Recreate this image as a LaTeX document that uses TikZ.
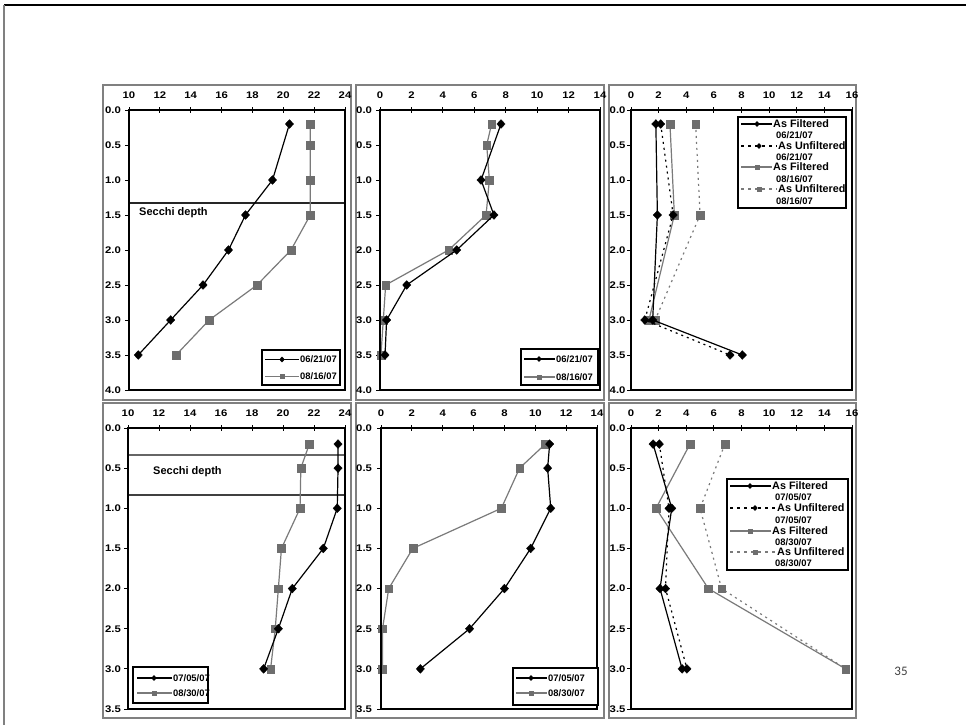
\documentclass[tikz,border=0pt]{standalone}
\usepackage{fontspec}
\setmainfont{Liberation Sans}
\newfontfamily\pagefont{Carlito}
\newfontfamily\widefont[FakeStretch=1.18]{Liberation Sans}
\usetikzlibrary{shapes.geometric}
\definecolor{fr}{gray}{0.5}
\definecolor{sg}{gray}{0.43}
\definecolor{sl}{gray}{0.48}
\newcommand\ser[3]{%
  \def\serpath{}%
  \foreach[count=\i] \xx/\yy in {#3}{%
    \ifnum\i=1 \xdef\serpath{(\xx,\yy)}\else\xdef\serpath{\serpath--(\xx,\yy)}\fi}%
  \def\serdraw{\draw[#1]}\expandafter\serdraw\serpath;%
  \foreach \xx/\yy in {#3}{\node[#2] at (\xx,\yy) {};}%
}
\begin{document}
\begin{tikzpicture}[x=1pt,y=-1pt,
  panelframe/.style={draw=fr,line width=1.1pt},
  plotbox/.style={draw=black,line width=1.9pt},
  tickmark/.style={line width=0.9pt},
  ticklab/.style={font=\widefont\bfseries\fontsize{9.6}{10}\selectfont,inner sep=0pt},
  leglab/.style={font=\bfseries\fontsize{9.4}{10}\selectfont,inner sep=0pt,anchor=west},
  bigleg/.style={font=\bfseries\fontsize{10.8}{11}\selectfont,inner sep=0pt,anchor=west},
  secchi/.style={font=\bfseries\fontsize{11}{12}\selectfont,inner sep=0pt,anchor=west},
  legbox/.style={draw=black,line width=2.2pt,fill=white},
  dia/.style={diamond,fill=black,draw=black,line width=0.3pt,inner sep=0pt,minimum width=8.5pt,minimum height=9pt},
  sq/.style={rectangle,fill=sg,draw=sg,line width=0.3pt,inner sep=0pt,minimum size=7.8pt},
  sdia/.style={diamond,fill=black,inner sep=0pt,minimum width=5.5pt,minimum height=6pt},
  ssq/.style={rectangle,fill=sg,inner sep=0pt,minimum size=5pt},
  blk/.style={line width=1.2pt,black},
  gry/.style={line width=1.2pt,sl},
  dots/.style={dash pattern=on 2pt off 4pt},
  legdots/.style={dash pattern=on 3pt off 4pt}]
\useasboundingbox (0,0) rectangle (966,725);
\fill[white] (0,0) rectangle (966,725);
% slide frame
\draw[line width=1.5pt,black] (4,5) -- (966,5);
\draw[line width=1.3pt,fr] (4,5) -- (4,725);
\node[font=\pagefont\fontsize{13}{14}\selectfont,text=black!75,inner sep=0pt] (pnum) at (901,671) {35};

% ================= Panel 1 =================
\draw[panelframe] (103,85) rectangle (351,400);
\foreach \v in {10,12,...,24} {
  \node[ticklab] at ({129+(\v-10)*15.4286},95) {\v};
  \draw[tickmark] ({129+(\v-10)*15.4286},107) -- ({129+(\v-10)*15.4286},113);}
\foreach \d in {0.0,0.5,1.0,1.5,2.0,2.5,3.0,3.5,4.0} {
  \node[ticklab,anchor=west] at (105,{110+\d*70}) {\d};
  \draw[tickmark] (125,{110+\d*70}) -- (130,{110+\d*70});}
\draw[line width=2.6pt,black!85] (129,203) -- (345,203);
\node[secchi] (s1) at (139,213) {Secchi depth};
\begin{scope}[shift={(-25.286,110)},xscale=15.4286,yscale=70]
  \ser{gry}{sq}{21.75/0.2,21.75/0.5,21.75/1.0,21.75/1.5,20.5/2.0,18.3/2.5,15.2/3.0,13.05/3.5}
  \ser{blk}{dia}{20.4/0.2,19.3/1.0,17.55/1.5,16.45/2.0,14.8/2.5,12.7/3.0,10.6/3.5}
\end{scope}
\draw[plotbox] (129,110) rectangle (345,390);
\draw[legbox] (262,350) rectangle (340,385);
\draw[blk] (265,359.5) -- (299,359.5); \node[sdia] at (282,359.5) {};
\node[leglab] (l1a) at (300,359.5) {06/21/07};
\draw[gry] (265,376.5) -- (299,376.5); \node[ssq] at (282,376.5) {};
\node[leglab] (l1b) at (300,376.5) {08/16/07};

% ================= Panel 2 =================
\draw[panelframe] (356,85) rectangle (604,400);
\foreach \v in {0,2,...,14} {
  \node[ticklab] at ({380+\v*15.714},95) {\v};
  \draw[tickmark] ({380+\v*15.714},107) -- ({380+\v*15.714},113);}
\foreach \d in {0.0,0.5,1.0,1.5,2.0,2.5,3.0,3.5,4.0} {
  \node[ticklab,anchor=west] at (356,{110+\d*70}) {\d};
  \draw[tickmark] (376,{110+\d*70}) -- (381,{110+\d*70});}
\begin{scope}[shift={(380,110)},xscale=15.714,yscale=70]
  \ser{gry}{sq}{7.1/0.2,6.79/0.5,6.96/1.0,6.75/1.5,4.37/2.0,0.36/2.5,0.21/3.0,0.06/3.5}
  \ser{blk}{dia}{7.7/0.2,6.43/1.0,7.25/1.5,4.88/2.0,1.7/2.5,0.42/3.0,0.32/3.5}
\end{scope}
\draw[plotbox] (380,110) rectangle (600,390);
\draw[legbox] (521,349) rectangle (598,385);
\draw[blk] (524,359) -- (555,359); \node[sdia] at (539,359) {};
\node[leglab] (l2a) at (556,359) {06/21/07};
\draw[gry] (524,377) -- (555,377); \node[ssq] at (539,377) {};
\node[leglab] (l2b) at (556,377) {08/16/07};

% ================= Panel 3 =================
\draw[panelframe] (609,85) rectangle (856,400);
\foreach \v in {0,2,...,16} {
  \node[ticklab] at ({631+\v*13.8125},95) {\v};
  \draw[tickmark] ({631+\v*13.8125},107) -- ({631+\v*13.8125},113);}
\foreach \d in {0.0,0.5,1.0,1.5,2.0,2.5,3.0,3.5,4.0} {
  \node[ticklab,anchor=west] at (609.5,{110+\d*70}) {\d};
  \draw[tickmark] (627,{110+\d*70}) -- (632,{110+\d*70});}
\begin{scope}[shift={(631,110)},xscale=13.8125,yscale=70]
  \ser{gry,dots}{sq}{4.68/0.2,5.0/1.5,1.75/3.0}
  \ser{gry}{sq}{2.82/0.2,3.14/1.5,1.3/3.0}
  \ser{blk,dots}{dia}{2.15/0.2,3.05/1.5,1.0/3.0,7.17/3.5}
  \ser{blk}{dia}{1.8/0.2,1.91/1.5,1.57/3.0,8.06/3.5}
\end{scope}
\draw[plotbox] (631,110) rectangle (852,390);
\draw[legbox] (738,117) rectangle (846,208);
\draw[blk] (741,124) -- (772,124); \node[sdia] at (757,124) {};
\node[bigleg] (l3a) at (773,124) {As Filtered};
\node[leglab] (l3b) at (776,135) {06/21/07};
\draw[blk,legdots] (741,146) -- (777,146); \node[sdia] at (759,146) {};
\node[bigleg] (l3c) at (778,146) {As Unfiltered};
\node[leglab] (l3d) at (776,157) {06/21/07};
\draw[gry] (741,167) -- (772,167); \node[ssq] at (757,167) {};
\node[bigleg] (l3e) at (773,167) {As Filtered};
\node[leglab] (l3f) at (776,179) {08/16/07};
\draw[gry,legdots] (741,189) -- (777,189); \node[ssq] at (759,189) {};
\node[bigleg] (l3g) at (778,189) {As Unfiltered};
\node[leglab] (l3h) at (776,201) {08/16/07};

% ================= Panel 4 =================
\draw[panelframe] (103,403) rectangle (351,718);
\foreach \v in {10,12,...,24} {
  \node[ticklab] at ({128+(\v-10)*15.5},413) {\v};
  \draw[tickmark] ({128+(\v-10)*15.5},425) -- ({128+(\v-10)*15.5},431);}
\foreach \d in {0.0,0.5,1.0,1.5,2.0,2.5,3.0,3.5} {
  \node[ticklab,anchor=west] at (105,{428+\d*80.29}) {\d};
  \draw[tickmark] (124,{428+\d*80.29}) -- (129,{428+\d*80.29});}
\draw[line width=1.1pt,black!60] (128,455) -- (345,455);
\draw[line width=1.1pt,black!75] (128,495) -- (345,495);
\node[secchi] (s4) at (153,472) {Secchi depth};
\begin{scope}[shift={(-27,428)},xscale=15.5,yscale=80.29]
  \ser{gry}{sq}{21.7/0.2,21.15/0.5,21.1/1.0,19.9/1.5,19.7/2.0,19.5/2.5,19.2/3.0}
  \ser{blk}{dia}{23.55/0.2,23.55/0.5,23.5/1.0,22.6/1.5,20.6/2.0,19.7/2.5,18.75/3.0}
\end{scope}
\draw[plotbox] (128,428) rectangle (345,709);
\draw[legbox] (133,667) rectangle (208,703);
\draw[blk] (137,678) -- (172,678); \node[sdia] at (154,678) {};
\node[leglab] (l4a) at (173,678) {07/05/07};
\draw[gry] (137,693) -- (172,693); \node[ssq] at (154,693) {};
\node[leglab] (l4b) at (173,693) {08/30/07};

% ================= Panel 5 =================
\draw[panelframe] (356,403) rectangle (604,718);
\foreach \v in {0,2,...,14} {
  \node[ticklab] at ({381+\v*15.43},413) {\v};
  \draw[tickmark] ({381+\v*15.43},425) -- ({381+\v*15.43},431);}
\foreach \d in {0.0,0.5,1.0,1.5,2.0,2.5,3.0,3.5} {
  \node[ticklab,anchor=west] at (356,{428+\d*80.29}) {\d};
  \draw[tickmark] (377,{428+\d*80.29}) -- (382,{428+\d*80.29});}
\begin{scope}[shift={(381,428)},xscale=15.43,yscale=80.29]
  \ser{gry}{sq}{10.65/0.2,8.98/0.5,7.8/1.0,2.06/1.5,0.5/2.0,0.1/2.5,0.1/3.0}
  \ser{blk}{dia}{10.93/0.2,10.8/0.5,11.0/1.0,9.7/1.5,8.0/2.0,5.74/2.5,2.55/3.0}
\end{scope}
\draw[plotbox] (381,428) rectangle (597,709);
\draw[legbox] (513,668) rectangle (598,705);
\draw[blk] (516,678) -- (547,678); \node[sdia] at (531,678) {};
\node[leglab] (l5a) at (548,678) {07/05/07};
\draw[gry] (516,693) -- (547,693); \node[ssq] at (531,693) {};
\node[leglab] (l5b) at (548,693) {08/30/07};

% ================= Panel 6 =================
\draw[panelframe] (609,403) rectangle (856,718);
\foreach \v in {0,2,...,16} {
  \node[ticklab] at ({631+\v*13.8125},413) {\v};
  \draw[tickmark] ({631+\v*13.8125},425) -- ({631+\v*13.8125},431);}
\foreach \d in {0.0,0.5,1.0,1.5,2.0,2.5,3.0,3.5} {
  \node[ticklab,anchor=west] at (609.5,{428+\d*80.29}) {\d};
  \draw[tickmark] (627,{428+\d*80.29}) -- (632,{428+\d*80.29});}
\begin{scope}[shift={(631,428)},xscale=13.8125,yscale=80.29]
  \ser{gry,dots}{sq}{6.8/0.2,5.0/1.0,6.56/2.0,15.54/3.0}
  \ser{gry}{sq}{4.27/0.2,1.81/1.0,5.6/2.0,15.54/3.0}
  \ser{blk,dots}{dia}{2.05/0.2,2.75/1.0,2.5/2.0,4.05/3.0}
  \ser{blk}{dia}{1.6/0.2,2.95/1.0,2.1/2.0,3.7/3.0}
\end{scope}
\draw[plotbox] (631,428) rectangle (852,709);
\draw[legbox] (727,479) rectangle (848,570);
\draw[blk] (730,486) -- (771,486); \node[sdia] at (750,486) {};
\node[bigleg] (l6a) at (772,486) {As Filtered};
\node[leglab] (l6b) at (775,497) {07/05/07};
\draw[blk,legdots] (730,508) -- (776,508); \node[sdia] at (755,508) {};
\node[bigleg] (l6c) at (777,508) {As Unfiltered};
\node[leglab] (l6d) at (775,520) {07/05/07};
\draw[gry] (730,531) -- (771,531); \node[ssq] at (750,531) {};
\node[bigleg] (l6e) at (772,531) {As Filtered};
\node[leglab] (l6f) at (775,542) {08/30/07};
\draw[gry,legdots] (730,552) -- (776,552); \node[ssq] at (755,552) {};
\node[bigleg] (l6g) at (777,552) {As Unfiltered};
\node[leglab] (l6h) at (775,563) {08/30/07};
\end{tikzpicture}
\end{document}
